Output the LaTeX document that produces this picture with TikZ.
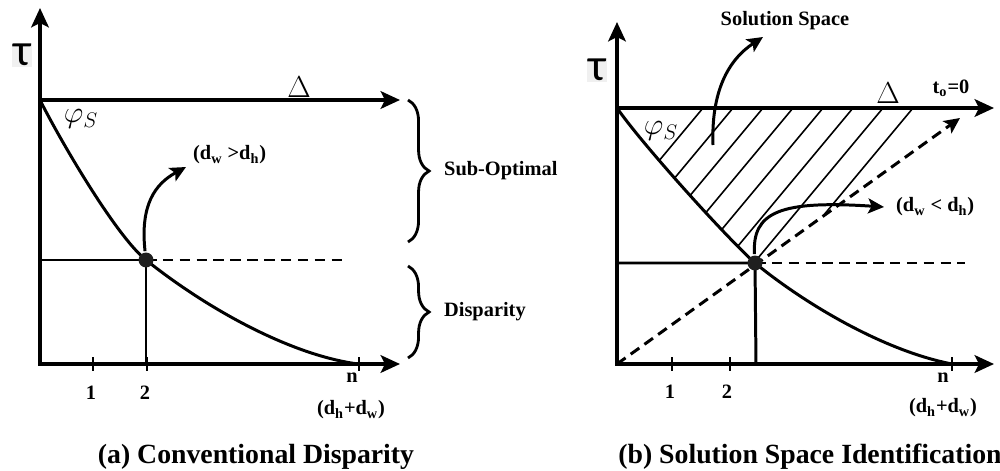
\documentclass[tikz,border=0pt]{standalone}
\usepackage{fontspec}
\setmainfont{Liberation Serif}
\newfontfamily\taufont{Carlito}
\usetikzlibrary{arrows.meta, positioning, decorations.pathreplacing}
\tikzset{
  every picture/.style={line width=1.6pt},
  axis/.style={{Stealth[length=11pt, width=10pt, inset=2.5pt]}-{Stealth[length=11pt, width=10pt, inset=2.5pt]}, line width=2.1pt},
  arrowaxis/.style={-{Stealth[length=11pt, width=10pt, inset=2.5pt]}, line width=2.1pt},
  curve/.style={line width=1.7pt},
  guide/.style={line width=1.7pt},
  dashguide/.style={line width=1.7pt, dash pattern=on 6pt off 3.6pt},
  pointer/.style={-{Stealth[length=9pt, width=8.5pt, inset=2pt]}, line width=1.7pt},
  hatch/.style={line width=0.9pt},
  tick/.style={line width=1.6pt},
  knot/.style={circle, fill=black!88, inner sep=0pt, minimum size=8.5pt},
  lbl/.style={font=\fontsize{11.6}{13}\selectfont\bfseries, inner sep=1pt},
  capt/.style={font=\fontsize{15.8}{18}\selectfont\bfseries, inner sep=0pt},
  greek/.style={font=\taufont\fontsize{26}{26}\selectfont, fill=black!6, inner sep=0.5pt},
  delta/.style={font=\fontsize{17}{17}\selectfont, inner sep=0pt},
  phi/.style={font=\fontsize{17}{17}\selectfont, inner sep=0pt},
  span/.style={decorate, decoration={brace, amplitude=12pt}, line width=1.6pt},
}

\begin{document}
\begin{tikzpicture}[x=0.02cm, y=-0.02cm]
  \useasboundingbox (0,0) rectangle (1000,470);

  % (a) conventional disparity
  \coordinate (yA) at (40,8);
  \coordinate (oA) at (40,364);
  \coordinate (xA) at (400,364);
  \coordinate (tA) at (40,100);
  \coordinate (dtA) at (400,100);
  \coordinate (dA) at (146,260);
  \coordinate (endA) at (358,364);
  \draw[axis] (yA) -- (oA) -- (xA);
  \draw[arrowaxis] (tA) -- (dtA);
  \draw[curve] (tA) .. controls (60,140) and (116,236) .. (dA) .. controls (206,308) and (290,355) .. (endA);
  \coordinate (hA) at (40,260);
  \coordinate (hAe) at (345,260);
  \coordinate (vA) at (146,364);
  \draw[guide] (hA) -- (dA) -- (vA);
  \draw[dashguide] (dA) -- (hAe);
  \foreach \tx in {93,147,359}
    \draw[tick] (\tx,357) -- (\tx,371);

  \node[greek] (tauA) at (22,55) {τ};
  \node[delta] (deltaA) at (299,87) {$\Delta$};
  \node[phi] (phiA) at (81,119) {$\varphi_S$};
  \node[lbl] (oneA) at (91,393) {1};
  \node[lbl] (twoA) at (145,393) {2};
  \node[lbl] (nA) at (352,378) {n};
  \node[lbl] (sumA) at (351,410) {(d\textsubscript{h}+d\textsubscript{w})};

  \draw[span] (408,100) -- (408,242);
  \node[lbl, anchor=west] (subA) at (441,171) {Sub-Optimal};
  \draw[span] (408,266) -- (408,358);
  \node[lbl, anchor=west] (dispA) at (441,312) {Disparity};

  \node[knot] (dotA) at (dA) {};
  \coordinate (pA) at (186,167);
  \draw[pointer] (dotA) .. controls (140,205) and (155,184) .. (pA);
  \node[lbl, anchor=west] (relA) at (190,155) {(d\textsubscript{w} >d\textsubscript{h})};
  \node[capt] (captA) at (256,457) {(a) Conventional Disparity};

  % (b) solution space identification
  \coordinate (yB) at (617,22);
  \coordinate (oB) at (617,364);
  \coordinate (xB) at (994,364);
  \coordinate (tB) at (617,108);
  \coordinate (dtB) at (994,108);
  \coordinate (dB) at (755,263);
  \coordinate (eB) at (974,108);
  \coordinate (endB) at (952,364);
  \begin{scope}
    \clip (tB) -- (eB) -- (dB) .. controls (725,236) and (642,144) .. (tB) -- cycle;
    \foreach \hx in {703,733,...,913}
      \draw[hatch] (\hx,108) -- ++(-250,300);
  \end{scope}
  \draw[axis] (yB) -- (oB) -- (xB);
  \draw[arrowaxis] (tB) -- (dtB);
  \draw[curve] (tB) .. controls (642,144) and (725,236) .. (dB) .. controls (800,300) and (880,350) .. (endB);
  \coordinate (hB) at (617,263);
  \coordinate (hBe) at (965,263);
  \coordinate (vB) at (756,364);
  \draw[guide] (hB) -- (dB) -- (vB);
  \draw[dashguide] (dB) -- (hBe);
  \coordinate (tipB) at (960,118);
  \draw[pointer, dashguide] (oB) -- (tipB);
  \foreach \tx in {672,730,952}
    \draw[tick] (\tx,357) -- (\tx,371);

  \node[greek] (tauB) at (597,70) {τ};
  \node[delta] (deltaB) at (888,93) {$\Delta$};
  \node[lbl] (zeroB) at (951,88) {t\textsubscript{o}=0};
  \node[phi] (phiB) at (661,131) {$\varphi_S$};
  \node[lbl] (oneB) at (670,392) {1};
  \node[lbl] (twoB) at (727,392) {2};
  \node[lbl] (nB) at (943,378) {n};
  \node[lbl] (sumB) at (943,408) {(d\textsubscript{h}+d\textsubscript{w})};

  \node[lbl] (spaceB) at (785,21) {Solution Space};
  \coordinate (sB) at (713,145);
  \coordinate (sBe) at (763,37);
  \draw[pointer] (sB) .. controls (711,92) and (728,60) .. (sBe);

  \node[knot] (dotB) at (dB) {};
  \coordinate (pB) at (884,207);
  \draw[pointer] (dotB) .. controls (752,212) and (780,200) .. (pB);
  \node[lbl, anchor=west] (relB) at (893,207) {(d\textsubscript{w} < d\textsubscript{h})};
  \node[capt] (captB) at (810,457) {(b) Solution Space Identification};
\end{tikzpicture}
\end{document}
